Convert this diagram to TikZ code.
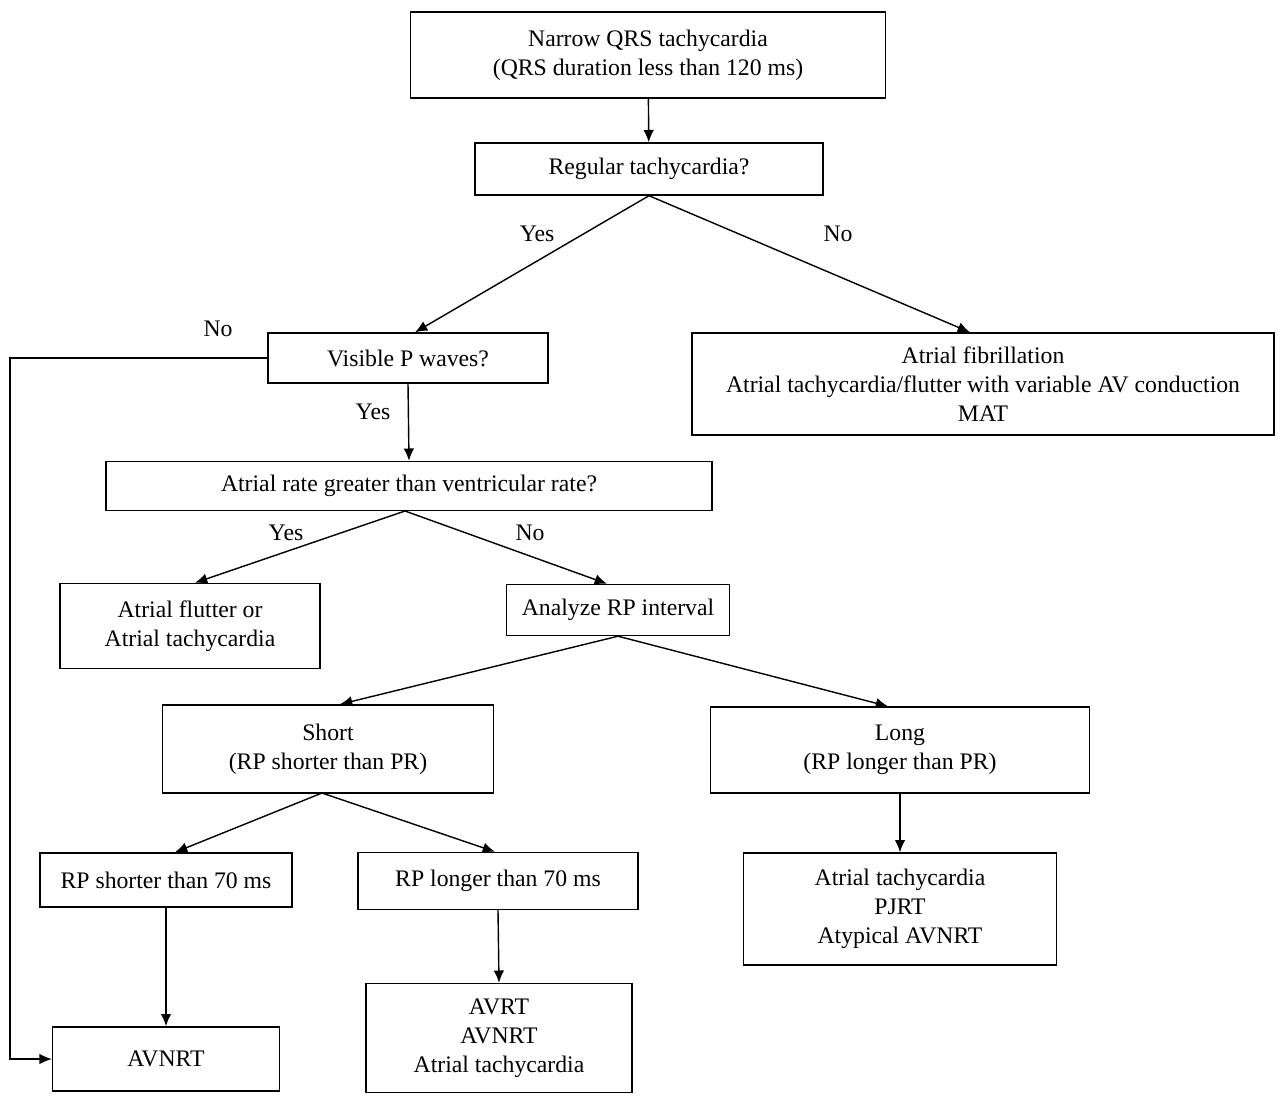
\documentclass[tikz,border=0pt]{standalone}
\usepackage{fontspec}
\setmainfont{Liberation Serif}
\usetikzlibrary{arrows.meta}
\newcommand{\lbl}[1]{\fontsize{13.5}{16.5}\selectfont #1}

\begin{document}
\begin{tikzpicture}[x=0.02cm, y=-0.02cm, line width=0.8pt,
    box/.style={draw, align=center, font=\fontsize{13.5}{16.5}\selectfont, inner sep=0pt},
    arr/.style={-{Latex[length=7pt,width=6pt]}}]
  \useasboundingbox (0,0) rectangle (1280,1101);
  \node[box, minimum width=475*0.02cm, minimum height=86*0.02cm] (top) at (648,55) {Narrow QRS tachycardia\\(QRS duration less than 120 ms)};
  \node[box, minimum width=348*0.02cm, minimum height=52*0.02cm] (reg) at (649,169) {Regular tachycardia?};
  \node[box, minimum width=280*0.02cm, minimum height=50*0.02cm] (vis) at (408,358) {Visible P waves?};
  \node[box, minimum width=582*0.02cm, minimum height=102*0.02cm] (af) at (983,384) {Atrial fibrillation\\Atrial tachycardia/flutter with variable AV conduction\\MAT};
  \node[box, minimum width=606*0.02cm, minimum height=49*0.02cm] (rate) at (409,486) {Atrial rate greater than ventricular rate?};
  \node[box, minimum width=260*0.02cm, minimum height=85*0.02cm] (flut) at (190,626) {Atrial flutter or\\Atrial tachycardia};
  \node[box, minimum width=223*0.02cm, minimum height=51*0.02cm] (rp) at (618,610) {Analyze RP interval};
  \node[box, minimum width=331*0.02cm, minimum height=88*0.02cm] (short) at (328,749) {Short\\(RP shorter than PR)};
  \node[box, minimum width=379*0.02cm, minimum height=86*0.02cm] (long) at (900,750) {Long\\(RP longer than PR)};
  \node[box, minimum width=252*0.02cm, minimum height=54*0.02cm] (lt70) at (166,880) {RP shorter than 70 ms};
  \node[box, minimum width=280*0.02cm, minimum height=57*0.02cm] (gt70) at (498,881) {RP longer than 70 ms};
  \node[box, minimum width=313*0.02cm, minimum height=112*0.02cm] (at) at (900,909) {Atrial tachycardia\\PJRT\\Atypical AVNRT};
  \node[box, minimum width=227*0.02cm, minimum height=64*0.02cm] (avnrt) at (166,1059) {AVNRT};
  \node[box, minimum width=266*0.02cm, minimum height=109*0.02cm] (avrt) at (499,1038) {AVRT\\AVNRT\\Atrial tachycardia};

  \coordinate (c1) at (10,358);
  \coordinate (c2) at (10,1059);
  \coordinate (ratebot) at (405,511);
  \coordinate (shortbot) at (322,793);

  \draw[arr] (top) -- (reg);
  \draw[arr] (reg.south) -- (vis.north -| 415,0);
  \node at (537,234) {\lbl{Yes}};
  \draw[arr] (reg.south) -- (af.north -| 970,0);
  \node at (838,234) {\lbl{No}};
  \draw[arr] (vis.west) -- (c1) -- (c2) -- (avnrt.west);
  \node at (218,329) {\lbl{No}};
  \draw[arr] (vis.south) -- (rate.north);
  \node at (373,412) {\lbl{Yes}};
  \draw[arr] (ratebot) -- (flut.north -| 195,0);
  \node at (286,533) {\lbl{Yes}};
  \draw[arr] (ratebot) -- (rp.north -| 607,0);
  \node at (530,533) {\lbl{No}};
  \draw[arr] (rp.south) -- (short.north -| 340,0);
  \draw[arr] (rp.south) -- (long.north -| 888,0);
  \draw[arr] (shortbot) -- (lt70.north -| 175,0);
  \draw[arr] (shortbot) -- (gt70.north -| 495,0);
  \draw[arr] (lt70) -- (avnrt);
  \draw[arr] (gt70.south) -- (avrt.north);
  \draw[arr] (long) -- (at);
\end{tikzpicture}
\end{document}
